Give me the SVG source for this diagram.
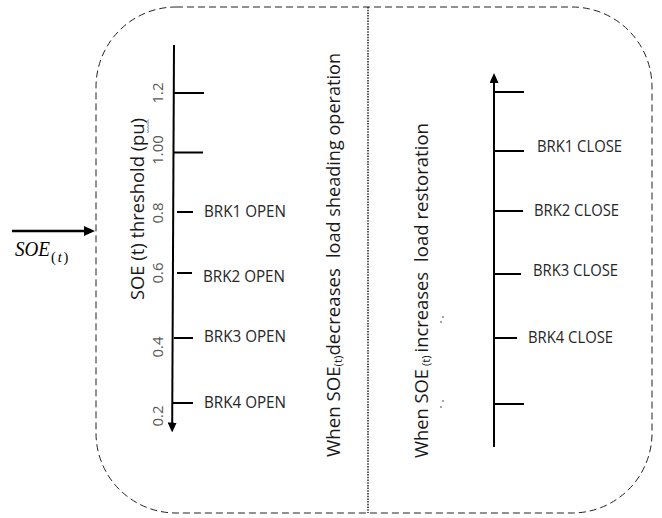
<svg xmlns="http://www.w3.org/2000/svg" width="662" height="518" viewBox="0 0 662 518">
<style>
.frame{fill:none;stroke:#222;stroke-width:1;stroke-dasharray:7 4}
.divider{fill:none;stroke:#222;stroke-width:1.5;stroke-dasharray:1.5 1.2}
.axis{stroke:#000;stroke-width:2;fill:none}
.tick{stroke:#000;stroke-width:2}
.brk{font-family:"Open Sans","Liberation Sans",sans-serif;font-size:15.5px;fill:#262626}
.num{font-family:"Open Sans","Liberation Sans",sans-serif;font-size:15px;fill:#595959;text-anchor:middle}
.rot{font-family:"Open Sans","Liberation Sans",sans-serif;font-size:18px;fill:#1a1a1a}
.math{font-family:"Liberation Serif",serif;font-style:italic;fill:#000}
</style>
<defs>
<marker id="ah" markerUnits="userSpaceOnUse" markerWidth="10" markerHeight="9" viewBox="0 0 10 9" refX="1" refY="4.5" orient="auto"><path d="M0,0 L10,4.5 L0,9 z" fill="#000"/></marker>
<marker id="ah2" markerUnits="userSpaceOnUse" markerWidth="11" markerHeight="10" viewBox="0 0 11 10" refX="1" refY="5" orient="auto"><path d="M0,0 L11,5 L0,10 z" fill="#000"/></marker>
</defs>
<g id="container">
<rect class="frame" x="96" y="7" width="556" height="506" rx="80" ry="80"/>
<line class="divider" x1="368" y1="7" x2="368" y2="513"/>
</g>
<g id="connectors">
<line x1="12" y1="231" x2="85" y2="231" stroke="#000" stroke-width="2.6" marker-end="url(#ah2)"/>
</g>
<g id="input-label">
<text class="math" x="15" y="256" font-size="20" textLength="35" lengthAdjust="spacingAndGlyphs">SOE</text>
<text class="math" x="51" y="262" font-size="14.5" letter-spacing="1.8"><tspan font-style="normal">(</tspan>t<tspan font-style="normal">)</tspan></text>
</g>
<g id="left-scale">
<line class="axis" x1="174" y1="45" x2="172.2" y2="423.5" marker-end="url(#ah)"/>
<line class="tick" x1="174" y1="93" x2="204" y2="93"/>
<line class="tick" x1="174" y1="152.5" x2="203" y2="152.5"/>
<line class="tick" x1="177" y1="212" x2="193" y2="212"/>
<line class="tick" x1="177" y1="273" x2="192" y2="273"/>
<line class="tick" x1="174" y1="338" x2="193" y2="338"/>
<line class="tick" x1="172" y1="403" x2="193" y2="403"/>
<text class="num" transform="translate(163,93) rotate(-90)">1.2</text>
<text class="num" transform="translate(163,150) rotate(-90)">1.00</text>
<text class="num" transform="translate(163,213) rotate(-90)">0.8</text>
<text class="num" transform="translate(163,273) rotate(-90)">0.6</text>
<text class="num" transform="translate(163,347) rotate(-90)">0.4</text>
<text class="num" transform="translate(163,416) rotate(-90)">0.2</text>
<text class="rot" transform="translate(144,300) rotate(-90)" font-size="17" textLength="182" lengthAdjust="spacingAndGlyphs">SOE (t) threshold (pu)</text>
<path d="M147.5,133 l1.2,-1.5 l-1.2,-1.5 l1.2,-1.5 l-1.2,-1.5 l1.2,-1.5 l-1.2,-1.5 l1.2,-1.5 l-1.2,-1.5 l1.2,-1.5" fill="none" stroke="#4472c4" stroke-width="0.9"/>
<text class="brk" x="204" y="216.5" textLength="82" lengthAdjust="spacingAndGlyphs">BRK1 OPEN</text>
<text class="brk" x="203" y="282" textLength="82" lengthAdjust="spacingAndGlyphs">BRK2 OPEN</text>
<text class="brk" x="204" y="342" textLength="82" lengthAdjust="spacingAndGlyphs">BRK3 OPEN</text>
<text class="brk" x="204" y="408" textLength="82" lengthAdjust="spacingAndGlyphs">BRK4 OPEN</text>
</g>
<g id="left-caption">
<text class="rot" transform="translate(340,457) rotate(-90)" textLength="189" lengthAdjust="spacingAndGlyphs">When SOE<tspan font-size="11" dy="2">(t)</tspan><tspan dy="-2">decreases</tspan></text>
<text class="rot" transform="translate(340,258) rotate(-90)" textLength="205" lengthAdjust="spacingAndGlyphs">load sheading operation</text>
</g>
<g id="right-caption">
<text class="rot" transform="translate(428,458) rotate(-90)" textLength="186" lengthAdjust="spacingAndGlyphs">When SOE<tspan font-size="11" dy="2"> (t) </tspan><tspan dy="-2">increases</tspan></text>
<text class="rot" transform="translate(428,262) rotate(-90)" textLength="139" lengthAdjust="spacingAndGlyphs">load restoration</text>
<g fill="#333">
<circle cx="443" cy="317" r="0.8"/><circle cx="441" cy="322" r="0.8"/>
<circle cx="443" cy="401" r="0.8"/><circle cx="441" cy="407" r="0.8"/>
</g>
</g>
<g id="right-scale">
<line class="axis" x1="494" y1="447" x2="494" y2="82" marker-end="url(#ah)"/>
<line class="tick" x1="494" y1="92" x2="524" y2="92"/>
<line class="tick" x1="494" y1="151" x2="524" y2="151"/>
<line class="tick" x1="494" y1="211" x2="523" y2="211"/>
<line class="tick" x1="494" y1="274" x2="521" y2="274"/>
<line class="tick" x1="494" y1="338" x2="517" y2="338"/>
<line class="tick" x1="494" y1="404" x2="524" y2="404"/>
<text class="brk" x="537" y="152" textLength="85" lengthAdjust="spacingAndGlyphs">BRK1 CLOSE</text>
<text class="brk" x="534" y="216" textLength="85" lengthAdjust="spacingAndGlyphs">BRK2 CLOSE</text>
<text class="brk" x="533" y="275.5" textLength="85" lengthAdjust="spacingAndGlyphs">BRK3 CLOSE</text>
<text class="brk" x="528" y="343" textLength="85" lengthAdjust="spacingAndGlyphs">BRK4 CLOSE</text>
</g>
</svg>
